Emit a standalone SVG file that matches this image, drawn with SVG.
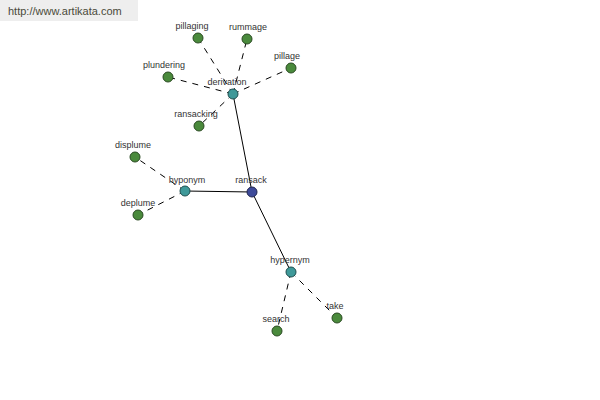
<svg xmlns="http://www.w3.org/2000/svg" width="600" height="400" viewBox="0 0 600 400">
<style>
.lbl{font-family:"Liberation Sans",Arial,sans-serif;font-size:9px;fill:#333;text-anchor:middle}
.leaf{fill:#4a8a3c;stroke:#2a4a22;stroke-width:1}
.mid{fill:#3f9999;stroke:#1f4f4f;stroke-width:1}
.root{fill:#3d4a99;stroke:#1f254f;stroke-width:1}
.solid{stroke:#000;stroke-width:1;fill:none}
.dash{stroke:#000;stroke-width:1;fill:none;stroke-dasharray:6,6}
</style>
<rect x="0" y="0" width="138" height="21" fill="#eeeeee"/>
<text x="8" y="15" font-family="Liberation Sans,Arial,sans-serif" font-size="11" fill="#4a4a3a">http://www.artikata.com</text>
<g id="connectors">
<line class="solid" x1="233" y1="94" x2="252" y2="192"/>
<line class="solid" x1="185" y1="191" x2="252" y2="192"/>
<line class="solid" x1="252" y1="192" x2="291" y2="272"/>
<line class="dash" x1="233" y1="94" x2="198" y2="38"/>
<line class="dash" x1="233" y1="94" x2="247" y2="39"/>
<line class="dash" x1="233" y1="94" x2="168" y2="77"/>
<line class="dash" x1="233" y1="94" x2="291" y2="68"/>
<line class="dash" x1="233" y1="94" x2="199" y2="126"/>
<line class="dash" x1="185" y1="191" x2="135" y2="157"/>
<line class="dash" x1="185" y1="191" x2="138" y2="215"/>
<line class="dash" x1="291" y1="272" x2="277" y2="331"/>
<line class="dash" x1="291" y1="272" x2="337" y2="318"/>
</g>
<g id="pillaging"><circle class="leaf" cx="198" cy="38" r="5"/><text class="lbl" x="192" y="29">pillaging</text></g>
<g id="rummage"><circle class="leaf" cx="247" cy="39" r="5"/><text class="lbl" x="248" y="30">rummage</text></g>
<g id="plundering"><circle class="leaf" cx="168" cy="77" r="5"/><text class="lbl" x="164" y="68">plundering</text></g>
<g id="pillage"><circle class="leaf" cx="291" cy="68" r="5"/><text class="lbl" x="287" y="59">pillage</text></g>
<g id="ransacking"><circle class="leaf" cx="199" cy="126" r="5"/><text class="lbl" x="196" y="117">ransacking</text></g>
<g id="derivation"><circle class="mid" cx="233" cy="94" r="5"/><text class="lbl" x="227" y="85">derivation</text></g>
<g id="displume"><circle class="leaf" cx="135" cy="157" r="5"/><text class="lbl" x="133" y="148">displume</text></g>
<g id="deplume"><circle class="leaf" cx="138" cy="215" r="5"/><text class="lbl" x="138" y="206">deplume</text></g>
<g id="hyponym"><circle class="mid" cx="185" cy="191" r="5"/><text class="lbl" x="187" y="183">hyponym</text></g>
<g id="ransack"><circle class="root" cx="252" cy="192" r="5"/><text class="lbl" x="251" y="183">ransack</text></g>
<g id="hypernym"><circle class="mid" cx="291" cy="272" r="5"/><text class="lbl" x="290" y="263">hypernym</text></g>
<g id="search"><circle class="leaf" cx="277" cy="331" r="5"/><text class="lbl" x="276" y="322">search</text></g>
<g id="take"><circle class="leaf" cx="337" cy="318" r="5"/><text class="lbl" x="335" y="309">take</text></g>
</svg>
